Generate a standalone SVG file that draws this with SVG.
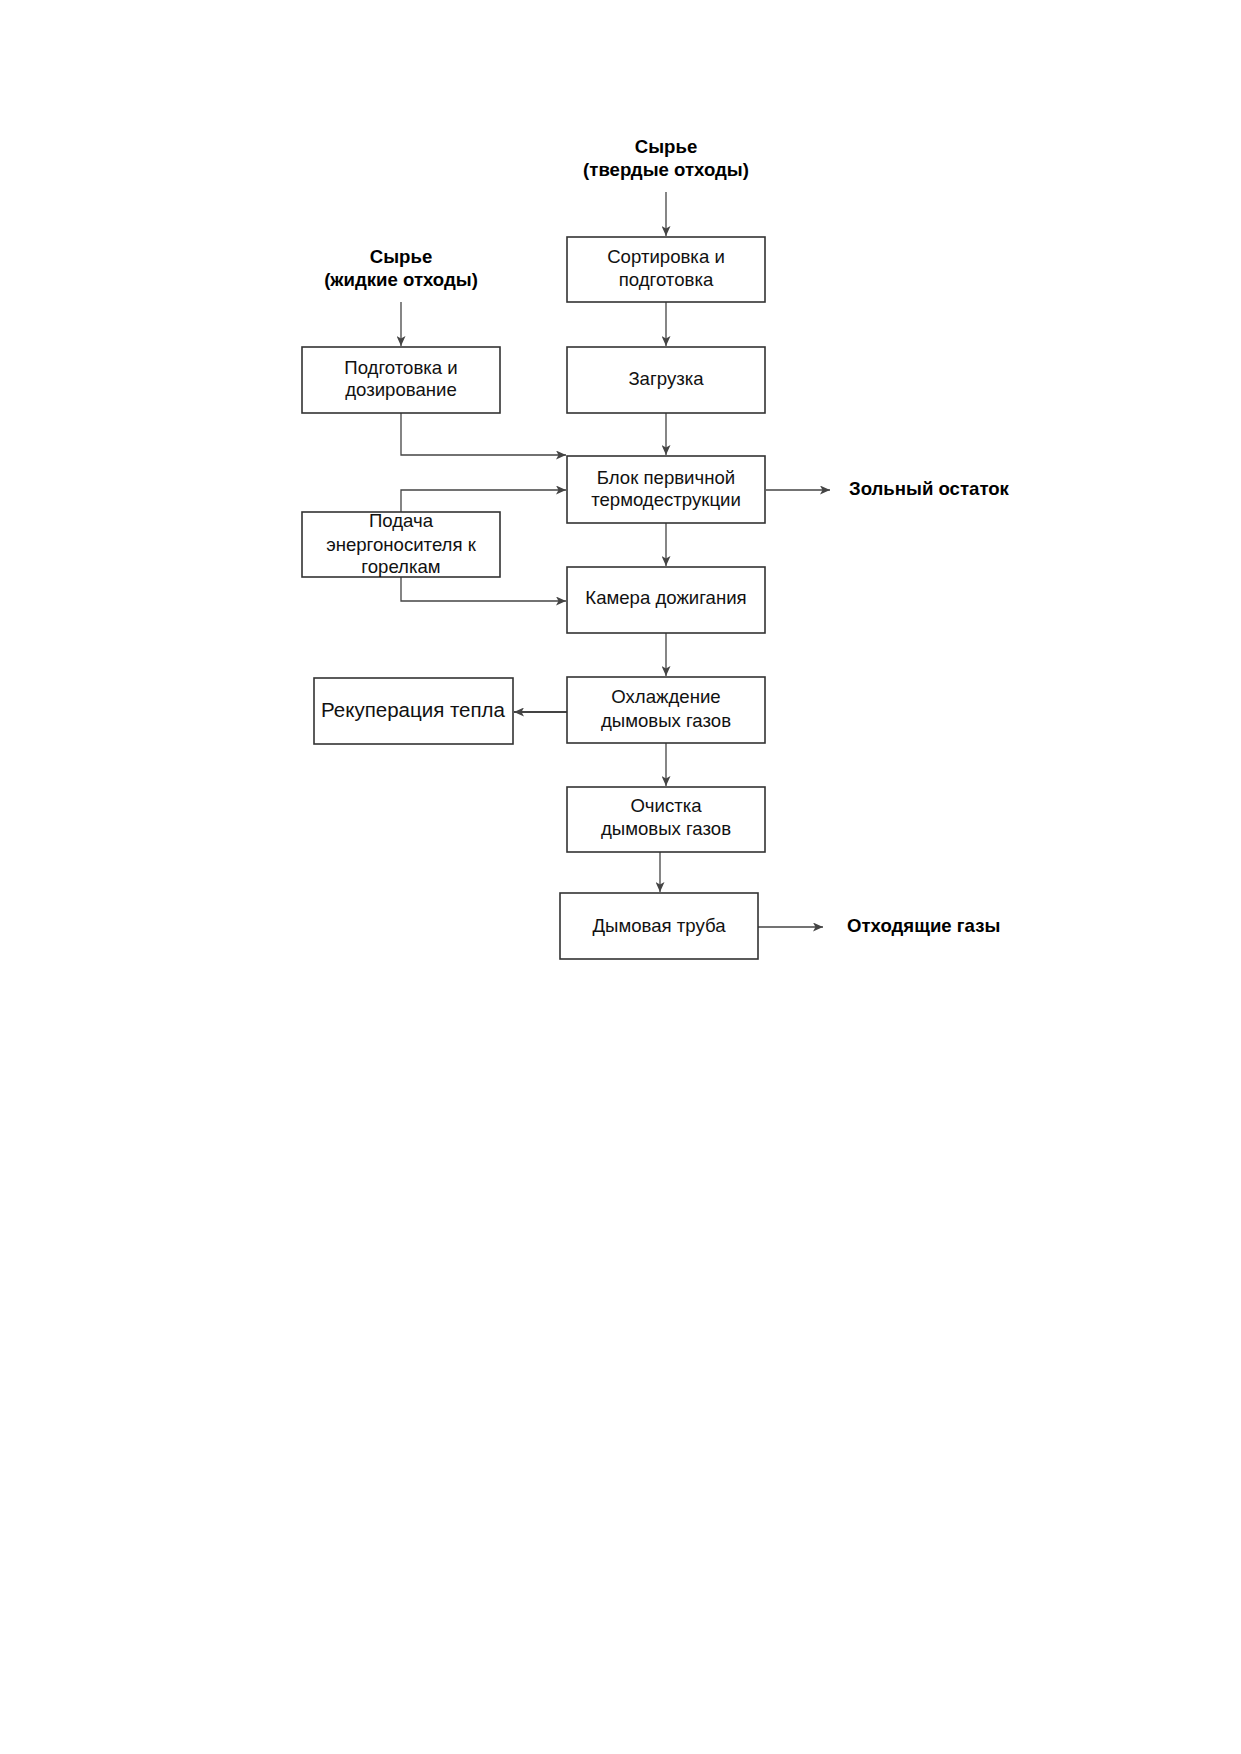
<svg xmlns="http://www.w3.org/2000/svg" width="1241" height="1754" viewBox="0 0 1241 1754">
<style>
.box{fill:#fff;stroke:#333;stroke-width:1.6}
.t{font-family:"Liberation Sans",Arial,sans-serif;font-size:18.6px;fill:#111;text-anchor:middle}
.b{font-family:"Liberation Sans",Arial,sans-serif;font-size:18.6px;font-weight:bold;fill:#000}
.c{text-anchor:middle}
.big{font-size:20.5px}
.ln{fill:none;stroke:#444;stroke-width:1.3}
.thick{stroke-width:2}
</style>
<defs>
<marker id="ar" markerUnits="userSpaceOnUse" markerWidth="11" markerHeight="9" refX="10" refY="4.5" orient="auto">
<path d="M0,0 L10,4.5 L0,9 L2.5,4.5 Z" fill="#444"/>
</marker>
</defs>
<rect width="1241" height="1754" fill="#fff"/>
<g id="labels">
<text class="b c" x="666" y="153">Сырье</text>
<text class="b c" x="666" y="176">(твердые отходы)</text>
<text class="b c" x="401" y="263">Сырье</text>
<text class="b c" x="401" y="286">(жидкие отходы)</text>
<text class="b" x="849" y="495">Зольный остаток</text>
<text class="b" x="847" y="932">Отходящие газы</text>
</g>
<g id="connectors">
<path class="ln" d="M666,192 V236" marker-end="url(#ar)"/>
<path class="ln" d="M666,302 V346" marker-end="url(#ar)"/>
<path class="ln" d="M401,302 V346" marker-end="url(#ar)"/>
<path class="ln" d="M666,413 V455" marker-end="url(#ar)"/>
<path class="ln" d="M401,413 V455 H566" marker-end="url(#ar)"/>
<path class="ln" d="M401,512 V490 H566" marker-end="url(#ar)"/>
<path class="ln" d="M766,490 H830" marker-end="url(#ar)"/>
<path class="ln" d="M666,523 V566" marker-end="url(#ar)"/>
<path class="ln" d="M401,577 V601 H566" marker-end="url(#ar)"/>
<path class="ln" d="M666,633 V676" marker-end="url(#ar)"/>
<path class="ln thick" d="M567,712 H514" marker-end="url(#ar)"/>
<path class="ln" d="M666,743 V786" marker-end="url(#ar)"/>
<path class="ln" d="M660,852 V892" marker-end="url(#ar)"/>
<path class="ln" d="M758,927 H823" marker-end="url(#ar)"/>
</g>
<g id="sort">
<rect class="box" x="567" y="237" width="198" height="65"/>
<text class="t" x="666" y="263">Сортировка и</text>
<text class="t" x="666" y="286">подготовка</text>
</g>
<g id="zagruzka">
<rect class="box" x="567" y="347" width="198" height="66"/>
<text class="t" x="666" y="385">Загрузка</text>
</g>
<g id="podgotovka">
<rect class="box" x="302" y="347" width="198" height="66"/>
<text class="t" x="401" y="374">Подготовка и</text>
<text class="t" x="401" y="396">дозирование</text>
</g>
<g id="blok">
<rect class="box" x="567" y="456" width="198" height="67"/>
<text class="t" x="666" y="484">Блок первичной</text>
<text class="t" x="666" y="506">термодеструкции</text>
</g>
<g id="podacha">
<rect class="box" x="302" y="512" width="198" height="65"/>
<text class="t" x="401" y="527">Подача</text>
<text class="t" x="401" y="551">энергоносителя к</text>
<text class="t" x="401" y="573">горелкам</text>
</g>
<g id="kamera">
<rect class="box" x="567" y="567" width="198" height="66"/>
<text class="t" x="666" y="604">Камера дожигания</text>
</g>
<g id="ohlazhdenie">
<rect class="box" x="567" y="677" width="198" height="66"/>
<text class="t" x="666" y="703">Охлаждение</text>
<text class="t" x="666" y="727">дымовых газов</text>
</g>
<g id="rekuperaciya">
<rect class="box" x="314" y="678" width="199" height="66"/>
<text class="t big" x="413" y="717">Рекуперация тепла</text>
</g>
<g id="ochistka">
<rect class="box" x="567" y="787" width="198" height="65"/>
<text class="t" x="666" y="812">Очистка</text>
<text class="t" x="666" y="835">дымовых газов</text>
</g>
<g id="truba">
<rect class="box" x="560" y="893" width="198" height="66"/>
<text class="t" x="659" y="932">Дымовая труба</text>
</g>
</svg>
